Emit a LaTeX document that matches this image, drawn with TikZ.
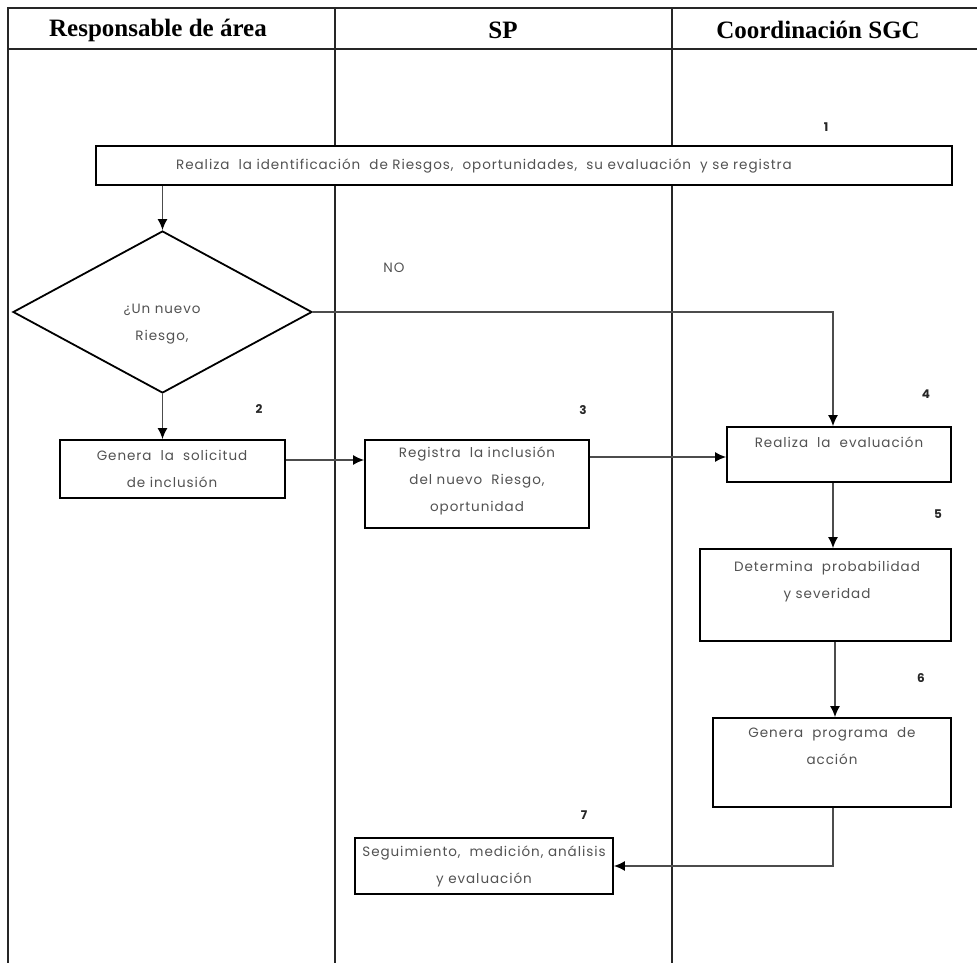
\documentclass[tikz,border=0pt]{standalone}
\usepackage{fontspec}
\setmainfont{Liberation Serif}
\newfontfamily\flowfont[LetterSpace=7]{Poppins}
\newfontfamily\numfont{Poppins}
\usetikzlibrary{shapes.geometric,arrows.meta}

\tikzset{
  tableline/.style={line width=2.2pt, black!85},
  head/.style={font=\fontsize{25}{28}\selectfont\bfseries, inner sep=0pt},
  stepbox/.style={draw=black, line width=1.8pt, fill=white, inner sep=0pt},
  boxtext/.style={font=\flowfont\fontsize{13.5}{27}\selectfont, text=black!68, align=center, inner sep=0pt},
  numlabel/.style={font=\numfont\fontsize{12}{14}\selectfont\bfseries, text=black!85, inner sep=0pt},
  flow/.style={line width=1.4pt, black!70, -{Latex[length=11pt,width=10pt,color=black]}},
}

\begin{document}
\begin{tikzpicture}[x=1pt,y=-1pt]
\useasboundingbox (0,0) rectangle (977,963);

% swimlane table
\draw[tableline] (977,8) -- (8,8) -- (8,963);
\draw[tableline] (8,49) -- (977,49);
\draw[tableline] (335,8) -- (335,963);
\draw[tableline] (672,8) -- (672,963);

\node[head] (h1) at (158,30) {Responsable de área};
\node[head] (h2) at (503,30) {SP};
\node[head] (h3) at (818,30) {Coordinación SGC};

% process boxes
\node[stepbox, minimum width=856pt, minimum height=39pt] (b1) at (524,165.5) {};
\node[stepbox, diamond, minimum width=299pt, minimum height=162pt] (dia) at (162.5,312) {};
\node[stepbox, minimum width=225pt, minimum height=58pt] (b2) at (172.5,469) {};
\node[stepbox, minimum width=224pt, minimum height=88pt] (b3) at (477,484) {};
\node[stepbox, minimum width=224pt, minimum height=55pt] (b4) at (839,454.5) {};
\node[stepbox, minimum width=251pt, minimum height=92pt] (b5) at (825.5,595) {};
\node[stepbox, minimum width=238pt, minimum height=89pt] (b6) at (832,762.5) {};
\node[stepbox, minimum width=258pt, minimum height=56pt] (b7) at (484,866) {};

% box texts
\node[boxtext] (t1) at (484,166) {Realiza\ \ la identificación\ \ de Riesgos,\ \ oportunidades,\ \ su evaluación\ \ y se registra};
\node[boxtext] (td) at (162,324) {¿Un nuevo\\Riesgo,};
\node[boxtext] (t2) at (172,468.5) {Genera\ \ la\ \ solicitud\\de inclusión};
\node[boxtext] (t3) at (477,481) {Registra\ \ la inclusión\\del nuevo\ \ Riesgo,\\oportunidad};
\node[boxtext] (t4) at (839,442) {Realiza\ \ la\ \ evaluación};
\node[boxtext] (t5) at (827,581.5) {Determina\ \ probabilidad\\y severidad};
\node[boxtext] (t6) at (832,746.5) {Genera\ \ programa\ \ de\\acción};
\node[boxtext] (t7) at (484,866.5) {Seguimiento,\ \ medición, análisis\\y evaluación};

% step numbers
\node[numlabel] (n1) at (826,127) {1};
\node[numlabel] (n2) at (259,409) {2};
\node[numlabel] (n3) at (583,410) {3};
\node[numlabel] (n4) at (926,394) {4};
\node[numlabel] (n5) at (938,514) {5};
\node[numlabel] (n6) at (921,678) {6};
\node[numlabel] (n7) at (584,815) {7};
\node[boxtext] (no) at (394,268) {NO};

% connectors
\draw[flow] (b1.south -| dia.north) -- (dia.north);
\draw[flow] (dia.south) -- (b2.north -| dia.south);
\draw[flow] (dia.east) -| (b4.north -| 833,0);
\draw[flow] (b2.east |- 0,460) -- (b3.west |- 0,460);
\draw[flow] (b3.east |- 0,457) -- (b4.west |- 0,457);
\draw[flow] (b4.south -| 833,0) -- (b5.north -| 833,0);
\draw[flow] (b5.south -| 835,0) -- (b6.north -| 835,0);
\draw[flow] (b6.south -| 833,0) |- (b7.east);
\end{tikzpicture}
\end{document}
